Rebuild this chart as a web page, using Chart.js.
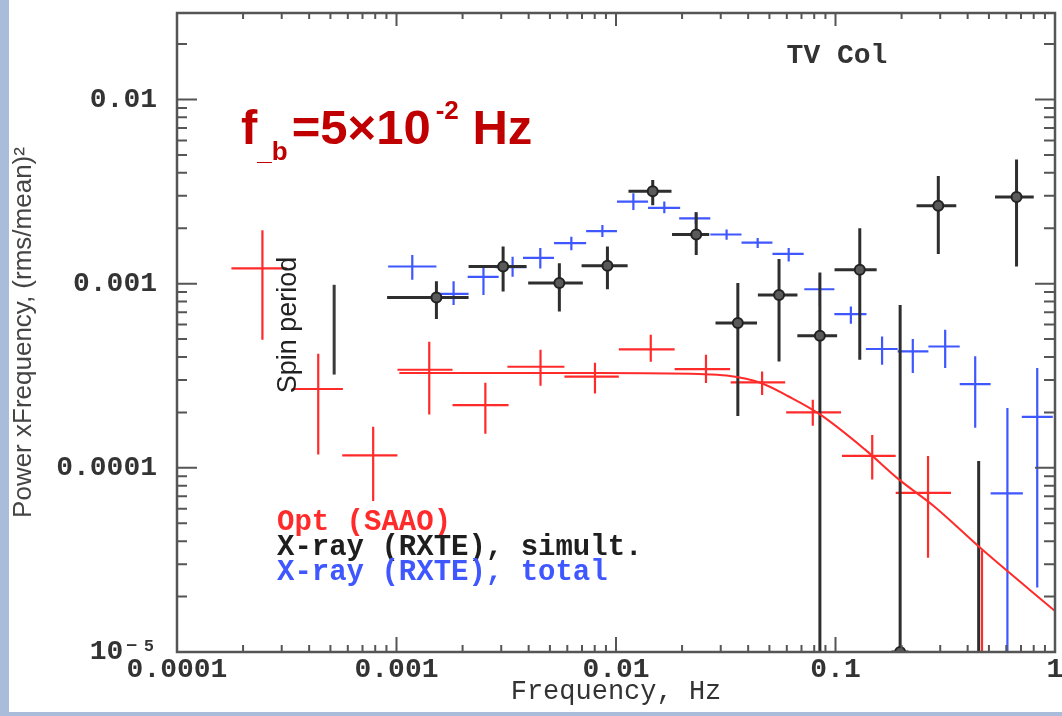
<!DOCTYPE html>
<html><head><meta charset="utf-8">
<script src="https://cdn.jsdelivr.net/npm/chart.js@4.4.1/dist/chart.umd.min.js"></script>
<style>html,body{margin:0;padding:0;background:#a9bddb;overflow:hidden}canvas{display:block}</style>
</head><body><canvas id="c" width="1062" height="716" style="width:1062px;height:716px"></canvas>
<script>
// ---------- data ----------
const xTickLabels = {'-4':'0.0001','-3':'0.001','-2':'0.01','-1':'0.1','0':'1'};
const yTickLabels = {'-5':'10\u207B\u2075','-4':'0.0001','-3':'0.001','-2':'0.01'};

// Optical (SAAO) - red
const optFreq   = [2.45e-4, 4.40e-4, 7.83e-4, 1.41e-3, 2.54e-3, 4.53e-3, 8.02e-3, 1.44e-2, 2.57e-2, 4.63e-2, 7.88e-2, 0.147, 0.264, 0.465];
const optFreqLo = [1.77e-4, 3.33e-4, 5.66e-4, 1.01e-3, 1.80e-3, 3.20e-3, 5.82e-3, 1.03e-2, 1.85e-2, 3.33e-2, 5.96e-2, 0.107, 0.188, 0.336];
const optFreqHi = [3.16e-4, 5.70e-4, 1.01e-3, 1.80e-3, 3.24e-3, 5.82e-3, 1.03e-2, 1.85e-2, 3.31e-2, 5.90e-2, 0.106, 0.188, 0.336, 0.597];
const optPower   = [1.21e-3, 2.68e-4, 1.17e-4, 3.41e-4, 2.19e-4, 3.54e-4, 3.13e-4, 4.40e-4, 3.44e-4, 2.91e-4, 2.00e-4, 1.16e-4, 7.31e-5, 1.0e-5];
const optPowerLo = [4.96e-4, 1.18e-4, 6.60e-5, 1.95e-4, 1.53e-4, 2.79e-4, 2.53e-4, 3.77e-4, 2.89e-4, 2.49e-4, 1.69e-4, 8.63e-5, 3.25e-5, 5.0e-6];
const optPowerHi = [1.95e-3, 4.17e-4, 1.67e-4, 4.84e-4, 2.90e-4, 4.38e-4, 3.72e-4, 5.28e-4, 4.11e-4, 3.34e-4, 2.34e-4, 1.51e-4, 1.16e-4, 3.57e-5];

// Optical model curve (break frequency) - red line
const modelFreq  = [1.03e-3, 8.4e-3, 2.39e-2, 3.19e-2, 4.58e-2, 6.12e-2, 8.5e-2, 0.136, 0.195, 0.281, 0.466, 1.0];
const modelPower = [3.27e-4, 3.27e-4, 3.23e-4, 3.17e-4, 2.89e-4, 2.44e-4, 1.95e-4, 1.26e-4, 8.63e-5, 6.19e-5, 3.6e-5, 1.67e-5];

// X-ray (RXTE), simultaneous - black
const simFreq   = [1.52e-3, 3.06e-3, 5.52e-3, 9.14e-3, 1.47e-2, 2.32e-2, 3.59e-2, 5.53e-2, 8.49e-2, 0.129, 0.197, 0.294, 0.449, 0.668];
const simFreqLo = [9.06e-4, 2.13e-3, 3.98e-3, 6.97e-3, 1.14e-2, 1.80e-2, 2.84e-2, 4.43e-2, 6.70e-2, 9.90e-2, 0.180, 0.234, 0.400, 0.533];
const simFreqHi = [2.13e-3, 3.91e-3, 7.06e-3, 1.13e-2, 1.79e-2, 2.66e-2, 4.39e-2, 6.71e-2, 0.1017, 0.154, 0.215, 0.355, 0.500, 0.800];
const simPower   = [8.41e-4, 1.24e-3, 1.01e-3, 1.25e-3, 3.18e-3, 1.85e-3, 6.11e-4, 8.69e-4, 5.21e-4, 1.19e-3, 1.0e-5, 2.65e-3, 8.0e-6, 2.96e-3];
const simPowerLo = [6.43e-4, 9.06e-4, 7.06e-4, 9.33e-4, 2.67e-3, 1.43e-3, 1.91e-4, 3.78e-4, 5.0e-6, 3.86e-4, 5.0e-6, 1.45e-3, 5.0e-6, 1.24e-3];
const simPowerHi = [1.03e-3, 1.59e-3, 1.29e-3, 1.59e-3, 3.66e-3, 2.44e-3, 1.01e-3, 1.36e-3, 1.15e-3, 2.00e-3, 7.67e-4, 3.84e-3, 1.09e-4, 4.73e-3];

// X-ray (RXTE), total - blue
const totFreq   = [1.18e-3, 1.82e-3, 2.49e-3, 3.38e-3, 4.52e-3, 6.26e-3, 8.67e-3, 1.20e-2, 1.66e-2, 2.31e-2, 3.19e-2, 4.42e-2, 6.12e-2, 8.49e-2, 0.1175, 0.163, 0.225, 0.316, 0.433, 0.607, 0.830];
const totFreqLo = [9.16e-4, 1.53e-3, 2.11e-3, 2.82e-3, 3.77e-3, 5.22e-3, 7.31e-3, 1.01e-2, 1.40e-2, 1.94e-2, 2.69e-2, 3.73e-2, 5.16e-2, 7.21e-2, 9.88e-2, 0.1375, 0.192, 0.265, 0.368, 0.509, 0.706];
const totFreqHi = [1.52e-3, 2.13e-3, 2.92e-3, 3.91e-3, 5.22e-3, 7.31e-3, 1.01e-2, 1.40e-2, 1.96e-2, 2.69e-2, 3.73e-2, 5.16e-2, 7.16e-2, 9.88e-2, 0.1384, 0.192, 0.265, 0.368, 0.509, 0.714, 0.977];
const totPower   = [1.24e-3, 8.81e-4, 1.09e-3, 1.23e-3, 1.38e-3, 1.66e-3, 1.93e-3, 2.79e-3, 2.58e-3, 2.26e-3, 1.85e-3, 1.67e-3, 1.45e-3, 9.33e-4, 6.84e-4, 4.42e-4, 4.29e-4, 4.56e-4, 2.85e-4, 7.26e-5, 1.89e-4];
const totPowerLo = [1.05e-3, 7.67e-4, 8.69e-4, 1.09e-3, 1.21e-3, 1.52e-3, 1.79e-3, 2.51e-3, 2.41e-3, 2.11e-3, 1.73e-3, 1.56e-3, 1.32e-3, 7.52e-4, 6.05e-4, 3.63e-4, 3.27e-4, 3.48e-4, 1.65e-4, 5.0e-6, 2.24e-5];
const totPowerHi = [1.43e-3, 1.03e-3, 1.26e-3, 1.40e-3, 1.56e-3, 1.80e-3, 2.08e-3, 3.10e-3, 2.79e-3, 2.44e-3, 1.97e-3, 1.77e-3, 1.56e-3, 1.13e-3, 7.52e-4, 5.16e-4, 5.00e-4, 5.62e-4, 4.03e-4, 2.11e-4, 3.48e-4];

// Spin period marker
const spinFreq  = [5.2e-4, 5.2e-4];
const spinPower = [3.21e-4, 9.86e-4];

const legendLabels = ['Opt (SAAO)', 'X-ray (RXTE), simult.', 'X-ray (RXTE), total'];

// ---------- colours ----------
const RED = '#ff2b2b', BLUE = '#3f57ff', BLACK = '#2e2e2e', AXIS = '#555555';
const MONO = '"Liberation Mono", "DejaVu Sans Mono", monospace';
const SANS = '"Liberation Sans", Arial, sans-serif';

const pts = (xs, ys) => xs.map((v, i) => ({x: v, y: ys[i]}));
const isDecade = v => Math.abs(Math.log10(v) - Math.round(Math.log10(v))) < 1e-6;

function drawCrosses(chart, fx, flo, fhi, p, plo, phi, color, width) {
  const {ctx, chartArea: a, scales: {x, y}} = chart;
  ctx.save();
  ctx.beginPath(); ctx.rect(a.left, a.top, a.right - a.left, a.bottom - a.top); ctx.clip();
  ctx.strokeStyle = color; ctx.lineWidth = width; ctx.lineCap = 'butt';
  for (let i = 0; i < fx.length; i++) {
    const cx = x.getPixelForValue(fx[i]), cy = y.getPixelForValue(p[i]);
    ctx.beginPath();
    ctx.moveTo(x.getPixelForValue(flo[i]), cy); ctx.lineTo(x.getPixelForValue(fhi[i]), cy);
    ctx.moveTo(cx, y.getPixelForValue(plo[i])); ctx.lineTo(cx, y.getPixelForValue(phi[i]));
    ctx.stroke();
  }
  ctx.restore();
}

const bgPlugin = {
  id: 'bg',
  beforeDraw(chart) {
    const ctx = chart.ctx;
    ctx.save();
    ctx.fillStyle = '#a9bddb'; ctx.fillRect(0, 0, chart.width, chart.height);
    ctx.fillStyle = '#ffffff'; ctx.fillRect(9, 0, chart.width - 9, 712);
    ctx.restore();
  }
};

const crossPlugin = {
  id: 'crosses',
  beforeDatasetsDraw(chart) {
    drawCrosses(chart, totFreq, totFreqLo, totFreqHi, totPower, totPowerLo, totPowerHi, BLUE, 2.2);
    drawCrosses(chart, optFreq, optFreqLo, optFreqHi, optPower, optPowerLo, optPowerHi, RED, 2.2);
    drawCrosses(chart, simFreq, simFreqLo, simFreqHi, simPower, simPowerLo, simPowerHi, BLACK, 3);
  }
};

const framePlugin = {
  id: 'frame',
  afterDraw(chart) {
    const {ctx, chartArea: a, scales: {x, y}} = chart;
    ctx.save();
    ctx.strokeStyle = AXIS;
    ctx.lineWidth = 2;
    ctx.beginPath();
    for (let d = -4; d <= 0; d++) for (let m = 1; m <= 9; m++) {
      const v = m * Math.pow(10, d); if (v > 1.0000001) continue;
      const px = x.getPixelForValue(v);
      const major = m === 1;
      ctx.moveTo(px, a.bottom); ctx.lineTo(px, a.bottom - (major ? 15 : 7));
      ctx.moveTo(px, a.top); ctx.lineTo(px, a.top + (major ? 13 : 6));
    }
    for (let d = -5; d <= -2; d++) for (let m = 1; m <= 9; m++) {
      const v = m * Math.pow(10, d); if (v > y.max) continue;
      const py = y.getPixelForValue(v);
      const major = m === 1;
      ctx.moveTo(a.left, py); ctx.lineTo(a.left + (major ? 20 : 10), py);
      ctx.moveTo(a.right, py); ctx.lineTo(a.right - (major ? 20 : 11), py);
    }
    ctx.stroke();
    ctx.lineWidth = 2.5;
    ctx.strokeRect(a.left, a.top, a.right - a.left, a.bottom - a.top);

    // annotations
    ctx.textBaseline = 'middle';
    ctx.font = 'bold 28px ' + MONO; ctx.fillStyle = '#333';
    ctx.textAlign = 'center';
    ctx.fillText('TV Col', 837, 56);
    ctx.textAlign = 'left';
    ctx.font = 'bold 29px ' + MONO;
    const legColors = [RED, '#1e1e1e', BLUE];
    legendLabels.forEach((t, i) => { ctx.fillStyle = legColors[i]; ctx.fillText(t, 277, 523 + i * 25); });

    // Spin period label
    ctx.save();
    ctx.translate(289, 325); ctx.rotate(-Math.PI / 2);
    ctx.font = '27px ' + SANS; ctx.fillStyle = '#222'; ctx.textAlign = 'center'; ctx.textBaseline = 'middle';
    ctx.fillText('Spin period', 0, 0);
    ctx.restore();

    // break frequency label
    ctx.fillStyle = '#c00000'; ctx.textBaseline = 'alphabetic'; ctx.textAlign = 'left';
    let xx = 241;
    const big = 'bold 49px ' + SANS, small = 'bold 26px ' + SANS;
    ctx.font = big; ctx.fillText('f', xx, 144); xx += ctx.measureText('f').width;
    ctx.font = small; ctx.fillText('_b', xx, 160); xx += ctx.measureText('_b').width + 4;
    ctx.font = big; ctx.fillText('=5\u00D710', xx, 144); xx += ctx.measureText('=5\u00D710').width + 5;
    ctx.font = small; ctx.fillText('-2', xx, 119); xx += ctx.measureText('-2').width;
    ctx.font = big; ctx.fillText(' Hz', xx, 144);
    ctx.restore();
  }
};

new Chart(document.getElementById('c'), {
  type: 'scatter',
  data: {
    datasets: [
      { label: 'model', data: pts(modelFreq, modelPower), showLine: true, borderColor: RED, borderWidth: 2,
        pointRadius: 0, cubicInterpolationMode: 'monotone', fill: false },
      { label: 'spin', data: pts(spinFreq, spinPower), showLine: true, borderColor: '#3a3a3a', borderWidth: 3, pointRadius: 0 },
      { label: 'X-ray simult.', data: pts(simFreq, simPower), showLine: false, pointRadius: 5,
        pointBackgroundColor: '#5a5a5a', pointBorderColor: '#222', pointBorderWidth: 2 },
      { label: 'Opt', data: pts(optFreq, optPower), showLine: false, pointRadius: 0 },
      { label: 'X-ray total', data: pts(totFreq, totPower), showLine: false, pointRadius: 0 }
    ]
  },
  options: {
    responsive: false, animation: false, devicePixelRatio: 1,
    layout: { padding: { left: 0, right: 6, top: 13, bottom: 0 } },
    plugins: { legend: { display: false }, tooltip: { enabled: false } },
    scales: {
      x: {
        type: 'logarithmic', min: 1e-4, max: 1,
        grid: { display: false, drawTicks: false }, border: { display: false },
        ticks: { autoSkip: false, maxRotation: 0, padding: 1, color: '#333',
          font: { family: MONO, size: 28, weight: 'bold' },
          callback: v => isDecade(v) ? xTickLabels[String(Math.round(Math.log10(v)))] : '' },
        title: { display: true, text: 'Frequency, Hz', color: '#333', padding: { top: 0, bottom: 8 },
          font: { family: MONO, size: 27 } },
        afterFit: s => { s.height = 64; s.paddingLeft = 0; s.paddingRight = 0; }
      },
      y: {
        type: 'logarithmic', min: 1e-5, max: 0.0295,
        grid: { display: false, drawTicks: false }, border: { display: false },
        ticks: { autoSkip: false, padding: 20, color: '#333',
          font: { family: MONO, size: 28, weight: 'bold' },
          callback: v => isDecade(v) ? yTickLabels[String(Math.round(Math.log10(v)))] : '' },
        title: { display: true, text: 'Power xFrequency, (rms/mean)\u00B2', color: '#444', padding: { top: 8, bottom: 0 },
          font: { family: SANS, size: 26 } },
        afterFit: s => { s.width = 177; s.paddingTop = 0; s.paddingBottom = 0; }
      }
    }
  },
  plugins: [bgPlugin, crossPlugin, framePlugin]
});
</script></body></html>
